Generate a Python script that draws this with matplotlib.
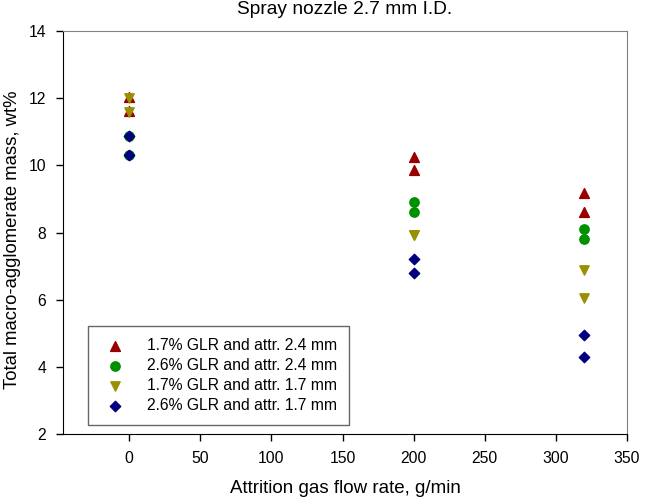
import matplotlib
matplotlib.use("Agg")
import matplotlib.pyplot as plt

plt.rcParams['font.family'] = ['Liberation Sans', 'DejaVu Sans']

x_flow = [0, 0, 200, 200, 320, 320]
s1_up = [12.02, 11.62, 10.25, 9.87, 9.18, 8.62]
s2_circ = [10.87, 10.30, 8.90, 8.61, 8.10, 7.80]
s3_down = [12.0, 11.6, 7.93, 7.93, 6.88, 6.05]
s4_diam = [10.86, 10.30, 7.20, 6.80, 4.96, 4.30]

labels = ["1.7% GLR and attr. 2.4 mm", "2.6% GLR and attr. 2.4 mm",
          "1.7% GLR and attr. 1.7 mm", "2.6% GLR and attr. 1.7 mm"]
xticks = [0, 50, 100, 150, 200, 250, 300, 350]
yticks = [2, 4, 6, 8, 10, 12, 14]

fig = plt.figure(figsize=(6.46, 4.98), dpi=100)
ax = fig.add_axes([63/646, 64/498, 564/646, 403/498])

ax.scatter(x_flow, s1_up, marker='^', s=50, color='#990000', label=labels[0], zorder=3)
ax.scatter(x_flow, s2_circ, marker='o', s=45, color='#009000', label=labels[1], zorder=3)
ax.scatter(x_flow, s3_down, marker='v', s=45, color='#999000', label=labels[2], zorder=4)
ax.scatter(x_flow, s4_diam, marker='D', s=28, color='#000080', label=labels[3], zorder=4)

ax.set_xlim(-46.5, 350)
ax.set_ylim(2, 14)
ax.set_xticks(xticks)
ax.set_yticks(yticks)
ax.tick_params(direction='out', length=5, width=1, labelsize=11.3, pad=7)
for side in ['top', 'right']:
    ax.spines[side].set_color('#808080')
for side in ['left', 'bottom']:
    ax.spines[side].set_color('black')

fig.text(13/646, 1 - 240/498, "Total macro-agglomerate mass, wt%", ha='center', va='center',
         rotation=90, fontsize=13.3)
fig.text(345/646, 1 - 488/498, "Attrition gas flow rate, g/min", ha='center', va='center', fontsize=13.5)
fig.text(345/646, 1 - 9/498, "Spray nozzle 2.7 mm I.D.", ha='center', va='center', fontsize=13.8)

leg = ax.legend(loc='lower left', bbox_to_anchor=(25/564, 9/403), fontsize=11.3,
                frameon=True, fancybox=False, edgecolor='#404040',
                handletextpad=1.0, borderpad=0.75, labelspacing=0.33,
                borderaxespad=0, handlelength=2)
leg.get_frame().set_linewidth(1)

fig.savefig("out.png", dpi=100)
